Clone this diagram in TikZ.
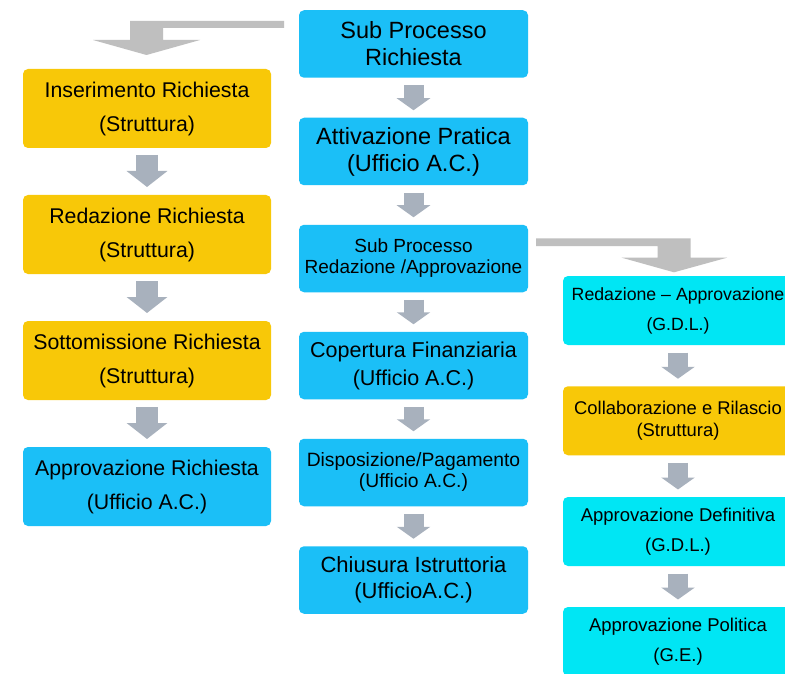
\documentclass[tikz,border=0pt]{standalone}
\usepackage{fontspec}
\setmainfont{Liberation Sans}
\usetikzlibrary{arrows.meta}
\definecolor{cyel}{HTML}{F8C808}
\definecolor{cblue}{HTML}{1BBFF7}
\definecolor{ccyan}{HTML}{00E6F4}
\definecolor{carr}{HTML}{A8B1BD}
\definecolor{cbent}{HTML}{BFBFBF}
\tikzset{
  box/.style={rectangle, rounded corners=5pt, inner sep=0pt, outer sep=0pt, align=center, text=black},
  lbox/.style={box, minimum width=248pt, minimum height=79pt, font=\fontsize{21.3}{34}\selectfont},
  mbox/.style={box, fill=cblue, minimum width=229pt, minimum height=67.5pt},
  rbox/.style={box, minimum width=230pt, minimum height=69pt, font=\fontsize{18.5}{30}\selectfont},
  blockarr/.style={draw=carr, line width=20pt, -{Triangle[width=33pt,length=12pt]}},
  blockarrl/.style={draw=carr, line width=22pt, -{Triangle[width=40pt,length=16pt]}},
  bent/.style={fill=cbent}
}
\begin{document}
\begin{tikzpicture}[x=1pt,y=-1pt]
\path[use as bounding box, clip] (0,0) rectangle (785,674);
\fill[white] (0,0) rectangle (785,674);

% middle column
\node[mbox, font=\fontsize{23.5}{27}\selectfont] (M1) at (413.5,44) {Sub Processo\\Richiesta};
\node[mbox, font=\fontsize{23.5}{27}\selectfont] (M2) at (413.5,151.5) {Attivazione Pratica\\(Ufficio A.C.)};
\node[mbox, font=\fontsize{19}{21}\selectfont] (M3) at (413.5,258.5) {Sub Processo\\Redazione /Approvazione};
\node[mbox, font=\fontsize{21.5}{28}\selectfont] (M4) at (413.5,365.5) {Copertura Finanziaria\\(Ufficio A.C.)};
\node[mbox, font=\fontsize{19.3}{21}\selectfont] (M5) at (413.5,472.5) {Disposizione/Pagamento\\(Ufficio A.C.)};
\node[mbox, font=\fontsize{22}{26}\selectfont] (M6) at (413.5,580) {Chiusura Istruttoria\\(UfficioA.C.)};

% left column
\node[lbox, fill=cyel] (L1) at (147,108.5) {Inserimento Richiesta\\(Struttura)};
\node[lbox, fill=cyel] (L2) at (147,234.5) {Redazione Richiesta\\(Struttura)};
\node[lbox, fill=cyel] (L3) at (147,360.5) {Sottomissione Richiesta\\(Struttura)};
\node[lbox, fill=cblue] (L4) at (147,486.5) {Approvazione Richiesta\\(Ufficio A.C.)};

% right column
\node[rbox, fill=ccyan, font=\fontsize{17.7}{30}\selectfont] (R1) at (678,310.5) {Redazione -- Approvazione\\(G.D.L.)};
\node[rbox, fill=cyel, font=\fontsize{18.4}{22}\selectfont] (R2) at (678,420.75) {Collaborazione e Rilascio\\(Struttura)};
\node[rbox, fill=ccyan] (R3) at (678,531.5) {Approvazione Definitiva\\(G.D.L.)};
\node[rbox, fill=ccyan] (R4) at (678,641.5) {Approvazione Politica\\(G.E.)};

% small block arrows
\foreach \a/\b in {M1/M2,M2/M3,M3/M4,M4/M5,M5/M6,R1/R2,R2/R3,R3/R4}
  \draw[blockarr] ([yshift=-7.5pt]\a.south) -- ([yshift=7.5pt]\b.north);
\foreach \a/\b in {L1/L2,L2/L3,L3/L4}
  \draw[blockarrl] ([yshift=-7pt]\a.south) -- ([yshift=8pt]\b.north);

% bent arrows
\coordinate (T1) at (146.5,55);
\fill[bent] (284,21) -- (130,21) -- (130,40) -- (93,40) -- (T1) -- (200,40) -- (163,40) -- (163,28) -- (284,28) -- cycle;
\coordinate (T2) at (674,272.3);
\fill[bent] (536,238.3) -- (690.5,238.3) -- (690.5,257.7) -- (727,257.7) -- (T2) -- (621.7,257.7) -- (657.7,257.7) -- (657.7,246) -- (536,246) -- cycle;
\end{tikzpicture}
\end{document}
